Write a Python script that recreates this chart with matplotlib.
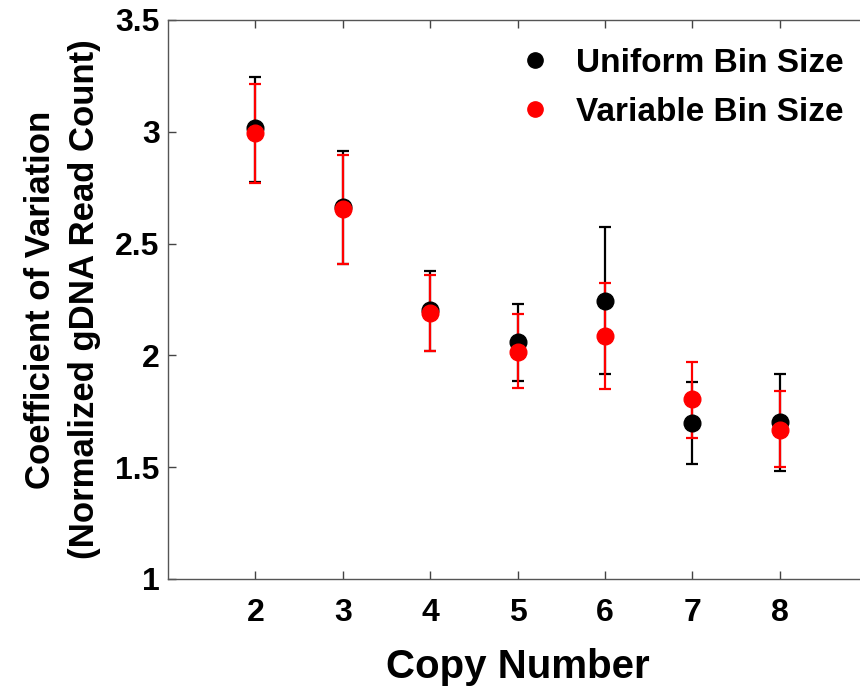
import numpy as np
import matplotlib
matplotlib.use("Agg")
import matplotlib.pyplot as plt
from matplotlib.lines import Line2D

plt.rcParams['font.family'] = ['Liberation Sans', 'DejaVu Sans']
plt.rcParams['font.weight'] = 'bold'

copy_number = [2, 3, 4, 5, 6, 7, 8]

# Uniform bin size: mean, lower, upper
uniform_mean = [3.017, 2.662, 2.203, 2.059, 2.245, 1.699, 1.703]
uniform_low = [2.776, 2.409, 2.020, 1.887, 1.917, 1.513, 1.484]
uniform_high = [3.244, 2.914, 2.379, 2.230, 2.573, 1.881, 1.917]

# Variable bin size: mean, lower, upper
variable_mean = [2.993, 2.653, 2.188, 2.017, 2.088, 1.804, 1.666]
variable_low = [2.771, 2.409, 2.020, 1.856, 1.850, 1.632, 1.500]
variable_high = [3.215, 2.896, 2.360, 2.184, 2.322, 1.972, 1.839]

fig = plt.figure(figsize=(8.6, 6.88), dpi=100)
ax = fig.add_axes([168 / 860, 1 - 579 / 688, 699 / 860, 559 / 688])


def draw(mean, low, high, color):
    mean = np.array(mean)
    yerr = [mean - np.array(low), np.array(high) - mean]
    ax.errorbar(copy_number, mean, yerr=yerr, fmt='o', color=color,
                markersize=12, elinewidth=1.6, capsize=4, capthick=1.6)


draw(uniform_mean, uniform_low, uniform_high, 'black')
draw(variable_mean, variable_low, variable_high, 'red')

ax.set_xlim(1, 9)
ax.set_ylim(1, 3.5)
ax.set_xticks(copy_number)
ax.set_yticks([1, 1.5, 2, 2.5, 3, 3.5])
ax.set_yticklabels(['1', '1.5', '2', '2.5', '3', '3.5'])
ax.tick_params(direction='in', top=True, length=6, width=1, colors='#444444',
               labelcolor='black', labelsize=23)
ax.tick_params(axis='x', pad=14)
ax.tick_params(axis='y', pad=6)
for s in ax.spines.values():
    s.set_color('#555555')
    s.set_linewidth(1)

ax.set_xlabel('Copy Number', fontsize=29, fontweight='bold', labelpad=14)
ax.set_ylabel('Coefficient of Variation\n(Normalized gDNA Read Count)',
              fontsize=25, fontweight='bold', labelpad=10, linespacing=1.45)

handles = [Line2D([], [], marker='o', linestyle='none', color='black', markersize=11),
           Line2D([], [], marker='o', linestyle='none', color='red', markersize=11)]
ax.legend(handles, ['Uniform Bin Size', 'Variable Bin Size'],
          loc='upper left', bbox_to_anchor=(0.482, 0.98), frameon=False,
          fontsize=24, borderpad=0, handletextpad=0.82, labelspacing=0.54,
          handlelength=0.8)

fig.savefig('out.png', dpi=100)
